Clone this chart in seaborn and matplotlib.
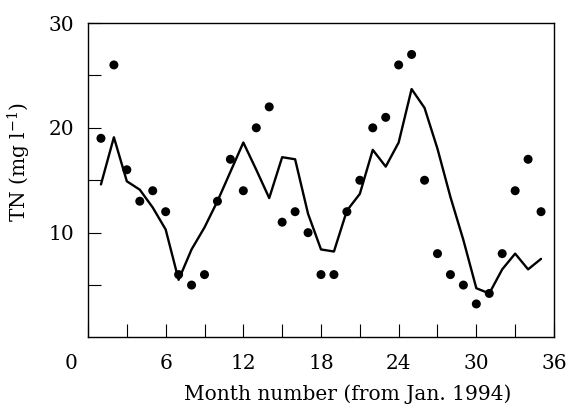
import matplotlib
matplotlib.use("Agg")
import matplotlib.pyplot as plt
from matplotlib.ticker import MultipleLocator, FixedLocator
import seaborn as sns
import pandas as pd

# Monthly total nitrogen: observed values and fitted model
months = list(range(1, 36))
observed_tn = [19, 26, 16, 13, 14, 12, 6, 5, 6, 13, 17, 14, 20, 22, 11, 12, 10, 6,
               6, 12, 15, 20, 21, 26, 27, 15, 8, 6, 5, 3.2, 4.2, 8, 14, 17, 12]
model_tn = [14.6, 19.1, 14.9, 14.1, 12.4, 10.3, 5.5, 8.4, 10.5, 13.0, 15.8, 18.6,
            16.0, 13.3, 17.2, 17.0, 11.8, 8.4, 8.2, 12.1, 13.7, 17.9, 16.3, 18.6,
            23.7, 21.9, 18.0, 13.4, 9.3, 4.7, 4.2, 6.5, 8.0, 6.5, 7.5]

x_ticks = [0, 6, 12, 18, 24, 30, 36]
y_ticks = [10, 20, 30]

df = pd.DataFrame({"month": months, "observed": observed_tn, "model": model_tn})

sns.set_theme(style="white")
plt.rcParams["font.family"] = ["DejaVu Serif"]
plt.rcParams["mathtext.fontset"] = "dejavuserif"

FS = 14.5

fig = plt.figure(figsize=(5.7, 4.05), dpi=100)
ax = fig.add_axes([0.1544, 0.1667, 0.8175, 0.7765])

sns.lineplot(data=df, x="month", y="model", ax=ax, color="black", linewidth=1.7)
sns.scatterplot(data=df, x="month", y="observed", ax=ax, color="black", s=42,
                edgecolor="none", zorder=3)

ax.set_xlim(0, 36)
ax.set_ylim(0, 30)

ax.xaxis.set_major_locator(FixedLocator(x_ticks))
ax.xaxis.set_minor_locator(MultipleLocator(3))
ax.yaxis.set_major_locator(FixedLocator(y_ticks))
ax.yaxis.set_minor_locator(FixedLocator([5, 15, 25]))
ax.set_xticklabels([""] + [str(t) for t in x_ticks[1:]])
ax.set_yticklabels([str(t) for t in y_ticks])

ax.tick_params(which="both", direction="in", length=9.4, width=0.8, color="black",
               top=False, right=False, bottom=True, left=True)
ax.tick_params(axis="x", which="major", labelsize=FS, pad=12, labelcolor="black")
ax.tick_params(axis="y", which="major", labelsize=FS, pad=10, labelcolor="black")

for sp in ax.spines.values():
    sp.set_visible(True)
    sp.set_color("black")
    sp.set_linewidth(1.0)

# corner origin label sits left of the axis corner
ax.annotate("0", xy=(0, 0), xycoords=("data", "axes fraction"),
            xytext=(-17, -17), textcoords="offset pixels",
            ha="center", va="top", fontsize=FS, color="black")

ax.set_xlabel("Month number (from Jan. 1994)", fontsize=FS, color="black")
ax.set_ylabel("TN (mg l$^{-1}$)", fontsize=FS, color="black")
ax.xaxis.set_label_coords(0.558, -0.148)
ax.yaxis.set_label_coords(-0.118, 0.558)

fig.savefig("out.png", dpi=100, facecolor="white")
